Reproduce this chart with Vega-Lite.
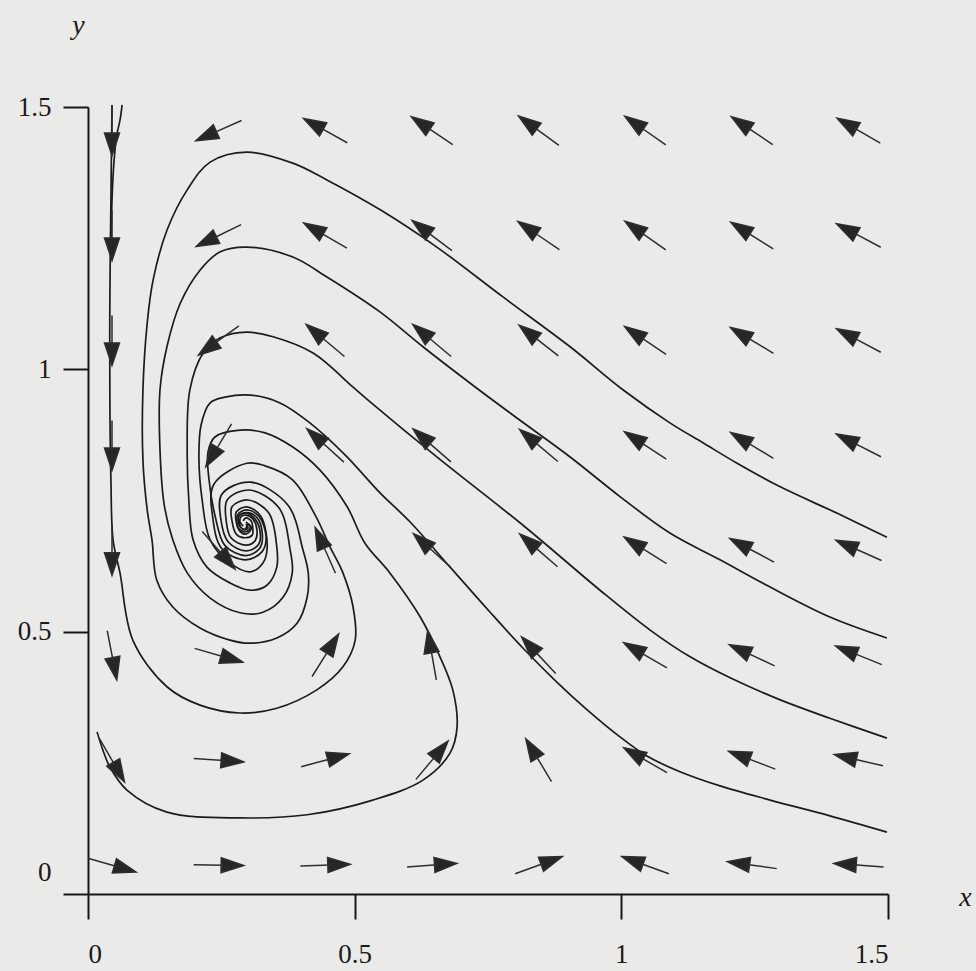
{
  "$schema": "https://vega.github.io/schema/vega-lite/v6.json",
  "width": 800,
  "height": 787,
  "autosize": {"type": "none"},
  "padding": {"left": 88, "top": 107, "right": 88, "bottom": 77},
  "background": "#eaeae8",
  "view": {"stroke": null},
  "config": {
    "axis": {
      "grid": false,
      "domainColor": "#161616",
      "domainWidth": 2,
      "tickColor": "#161616",
      "tickWidth": 2,
      "tickSize": 25,
      "labelFont": "Liberation Serif",
      "labelFontSize": 27,
      "labelColor": "#1a1a1a",
      "titleFont": "Liberation Serif",
      "titleFontSize": 28,
      "titleFontWeight": "normal",
      "titleFontStyle": "italic",
      "titleColor": "#1a1a1a"
    }
  },
  "datasets": {
    "paths": [
      {"t":"T1","i":1,"x":1.498,"y":0.680},{"t":"T1","i":2,"x":1.404,"y":0.726},{"t":"T1","i":3,"x":1.298,"y":0.776},{"t":"T1","i":4,"x":1.217,"y":0.821},{"t":"T1","i":5,"x":1.153,"y":0.860},{"t":"T1","i":6,"x":1.091,"y":0.898},{"t":"T1","i":7,"x":1.003,"y":0.961},{"t":"T1","i":8,"x":0.904,"y":1.043},{"t":"T1","i":9,"x":0.778,"y":1.138},{"t":"T1","i":10,"x":0.654,"y":1.233},{"t":"T1","i":11,"x":0.548,"y":1.304},{"t":"T1","i":12,"x":0.448,"y":1.361},{"t":"T1","i":13,"x":0.384,"y":1.393},{"t":"T1","i":14,"x":0.298,"y":1.414},{"t":"T1","i":15,"x":0.229,"y":1.395},{"t":"T1","i":16,"x":0.186,"y":1.342},{"t":"T1","i":17,"x":0.148,"y":1.265},{"t":"T1","i":18,"x":0.122,"y":1.170},{"t":"T1","i":19,"x":0.111,"y":1.088},{"t":"T1","i":20,"x":0.103,"y":0.961},{"t":"T1","i":21,"x":0.103,"y":0.827},{"t":"T1","i":22,"x":0.111,"y":0.732},{"t":"T1","i":23,"x":0.120,"y":0.675},{"t":"T1","i":24,"x":0.129,"y":0.598},{"t":"T1","i":25,"x":0.159,"y":0.547},{"t":"T1","i":26,"x":0.210,"y":0.507},{"t":"T1","i":27,"x":0.266,"y":0.484},{"t":"T1","i":28,"x":0.304,"y":0.478},{"t":"T1","i":29,"x":0.354,"y":0.488},{"t":"T1","i":30,"x":0.392,"y":0.516},{"t":"T1","i":31,"x":0.411,"y":0.566},{"t":"T1","i":32,"x":0.413,"y":0.612},{"t":"T1","i":33,"x":0.403,"y":0.656},{"t":"T1","i":34,"x":0.375,"y":0.741},{"t":"T1","i":35,"x":0.304,"y":0.785},{"t":"T1","i":36,"x":0.251,"y":0.762},{"t":"T1","i":37,"x":0.249,"y":0.715},{"t":"T1","i":38,"x":0.263,"y":0.671},{"t":"T1","i":39,"x":0.296,"y":0.654},{"t":"T1","i":40,"x":0.319,"y":0.665},{"t":"T1","i":41,"x":0.323,"y":0.688},{"t":"T1","i":42,"x":0.313,"y":0.715},{"t":"T1","i":43,"x":0.296,"y":0.726},{"t":"T1","i":44,"x":0.283,"y":0.720},{"t":"T1","i":45,"x":0.283,"y":0.709},{"t":"T1","i":46,"x":0.287,"y":0.698},{"t":"T1","i":47,"x":0.294,"y":0.694},{"t":"T1","i":48,"x":0.300,"y":0.698},{"t":"T1","i":49,"x":0.296,"y":0.705},

      {"t":"T2","i":1,"x":1.498,"y":0.488},{"t":"T2","i":2,"x":1.391,"y":0.528},{"t":"T2","i":3,"x":1.279,"y":0.585},{"t":"T2","i":4,"x":1.185,"y":0.637},{"t":"T2","i":5,"x":1.091,"y":0.688},{"t":"T2","i":6,"x":0.998,"y":0.757},{"t":"T2","i":7,"x":0.904,"y":0.833},{"t":"T2","i":8,"x":0.810,"y":0.903},{"t":"T2","i":9,"x":0.729,"y":0.964},{"t":"T2","i":10,"x":0.628,"y":1.043},{"t":"T2","i":11,"x":0.548,"y":1.109},{"t":"T2","i":12,"x":0.448,"y":1.176},{"t":"T2","i":13,"x":0.384,"y":1.214},{"t":"T2","i":14,"x":0.298,"y":1.233},{"t":"T2","i":15,"x":0.248,"y":1.224},{"t":"T2","i":16,"x":0.210,"y":1.189},{"t":"T2","i":17,"x":0.173,"y":1.126},{"t":"T2","i":18,"x":0.148,"y":1.043},{"t":"T2","i":19,"x":0.135,"y":0.961},{"t":"T2","i":20,"x":0.135,"y":0.846},{"t":"T2","i":21,"x":0.143,"y":0.741},{"t":"T2","i":22,"x":0.159,"y":0.675},{"t":"T2","i":23,"x":0.186,"y":0.612},{"t":"T2","i":24,"x":0.229,"y":0.564},{"t":"T2","i":25,"x":0.285,"y":0.536},{"t":"T2","i":26,"x":0.328,"y":0.537},{"t":"T2","i":27,"x":0.366,"y":0.566},{"t":"T2","i":28,"x":0.383,"y":0.612},{"t":"T2","i":29,"x":0.379,"y":0.656},{"t":"T2","i":30,"x":0.358,"y":0.736},{"t":"T2","i":31,"x":0.302,"y":0.770},{"t":"T2","i":32,"x":0.261,"y":0.751},{"t":"T2","i":33,"x":0.259,"y":0.713},{"t":"T2","i":34,"x":0.268,"y":0.679},{"t":"T2","i":35,"x":0.296,"y":0.665},{"t":"T2","i":36,"x":0.313,"y":0.673},{"t":"T2","i":37,"x":0.317,"y":0.692},{"t":"T2","i":38,"x":0.309,"y":0.715},{"t":"T2","i":39,"x":0.296,"y":0.722},{"t":"T2","i":40,"x":0.287,"y":0.719},{"t":"T2","i":41,"x":0.285,"y":0.709},{"t":"T2","i":42,"x":0.291,"y":0.701},

      {"t":"T3","i":1,"x":1.498,"y":0.297},{"t":"T3","i":2,"x":1.391,"y":0.335},{"t":"T3","i":3,"x":1.298,"y":0.370},{"t":"T3","i":4,"x":1.204,"y":0.412},{"t":"T3","i":5,"x":1.129,"y":0.452},{"t":"T3","i":6,"x":1.054,"y":0.503},{"t":"T3","i":7,"x":0.960,"y":0.579},{"t":"T3","i":8,"x":0.819,"y":0.700},{"t":"T3","i":9,"x":0.654,"y":0.833},{"t":"T3","i":10,"x":0.529,"y":0.938},{"t":"T3","i":11,"x":0.497,"y":0.966},{"t":"T3","i":12,"x":0.422,"y":1.031},{"t":"T3","i":13,"x":0.347,"y":1.062},{"t":"T3","i":14,"x":0.298,"y":1.071},{"t":"T3","i":15,"x":0.248,"y":1.060},{"t":"T3","i":16,"x":0.216,"y":1.031},{"t":"T3","i":17,"x":0.191,"y":0.961},{"t":"T3","i":18,"x":0.186,"y":0.846},{"t":"T3","i":19,"x":0.189,"y":0.751},{"t":"T3","i":20,"x":0.197,"y":0.675},{"t":"T3","i":21,"x":0.223,"y":0.623},{"t":"T3","i":22,"x":0.266,"y":0.593},{"t":"T3","i":23,"x":0.304,"y":0.579},{"t":"T3","i":24,"x":0.336,"y":0.589},{"t":"T3","i":25,"x":0.354,"y":0.623},{"t":"T3","i":26,"x":0.354,"y":0.661},{"t":"T3","i":27,"x":0.339,"y":0.726},{"t":"T3","i":28,"x":0.300,"y":0.751},{"t":"T3","i":29,"x":0.270,"y":0.738},{"t":"T3","i":30,"x":0.270,"y":0.711},{"t":"T3","i":31,"x":0.278,"y":0.686},{"t":"T3","i":32,"x":0.294,"y":0.679},{"t":"T3","i":33,"x":0.308,"y":0.684},{"t":"T3","i":34,"x":0.309,"y":0.696},{"t":"T3","i":35,"x":0.306,"y":0.711},{"t":"T3","i":36,"x":0.296,"y":0.717},{"t":"T3","i":37,"x":0.291,"y":0.711},

      {"t":"T4","i":1,"x":1.498,"y":0.118},{"t":"T4","i":2,"x":1.391,"y":0.149},{"t":"T4","i":3,"x":1.279,"y":0.179},{"t":"T4","i":4,"x":1.185,"y":0.206},{"t":"T4","i":5,"x":1.110,"y":0.233},{"t":"T4","i":6,"x":1.048,"y":0.263},{"t":"T4","i":7,"x":0.998,"y":0.299},{"t":"T4","i":8,"x":0.936,"y":0.351},{"t":"T4","i":9,"x":0.879,"y":0.404},{"t":"T4","i":10,"x":0.819,"y":0.465},{"t":"T4","i":11,"x":0.754,"y":0.537},{"t":"T4","i":12,"x":0.679,"y":0.623},{"t":"T4","i":13,"x":0.604,"y":0.709},{"t":"T4","i":14,"x":0.548,"y":0.764},{"t":"T4","i":15,"x":0.482,"y":0.837},{"t":"T4","i":16,"x":0.416,"y":0.898},{"t":"T4","i":17,"x":0.360,"y":0.936},{"t":"T4","i":18,"x":0.304,"y":0.951},{"t":"T4","i":19,"x":0.257,"y":0.947},{"t":"T4","i":20,"x":0.229,"y":0.936},{"t":"T4","i":21,"x":0.212,"y":0.894},{"t":"T4","i":22,"x":0.208,"y":0.827},{"t":"T4","i":23,"x":0.214,"y":0.751},{"t":"T4","i":24,"x":0.229,"y":0.675},{"t":"T4","i":25,"x":0.266,"y":0.631},{"t":"T4","i":26,"x":0.304,"y":0.614},{"t":"T4","i":27,"x":0.328,"y":0.631},{"t":"T4","i":28,"x":0.336,"y":0.661},{"t":"T4","i":29,"x":0.324,"y":0.720},{"t":"T4","i":30,"x":0.298,"y":0.738},{"t":"T4","i":31,"x":0.278,"y":0.728},{"t":"T4","i":32,"x":0.278,"y":0.709},{"t":"T4","i":33,"x":0.283,"y":0.694},{"t":"T4","i":34,"x":0.294,"y":0.686},{"t":"T4","i":35,"x":0.304,"y":0.692},{"t":"T4","i":36,"x":0.306,"y":0.700},{"t":"T4","i":37,"x":0.298,"y":0.705},

      {"t":"T5","i":1,"x":0.045,"y":1.504},{"t":"T5","i":2,"x":0.043,"y":1.323},{"t":"T5","i":3,"x":0.041,"y":1.132},{"t":"T5","i":4,"x":0.041,"y":0.942},{"t":"T5","i":5,"x":0.043,"y":0.789},{"t":"T5","i":6,"x":0.047,"y":0.675},{"t":"T5","i":7,"x":0.060,"y":0.612},{"t":"T5","i":8,"x":0.084,"y":0.484},{"t":"T5","i":9,"x":0.148,"y":0.395},{"t":"T5","i":10,"x":0.210,"y":0.360},{"t":"T5","i":11,"x":0.285,"y":0.345},{"t":"T5","i":12,"x":0.354,"y":0.354},{"t":"T5","i":13,"x":0.429,"y":0.389},{"t":"T5","i":14,"x":0.478,"y":0.433},{"t":"T5","i":15,"x":0.501,"y":0.484},{"t":"T5","i":16,"x":0.497,"y":0.547},{"t":"T5","i":17,"x":0.478,"y":0.612},{"t":"T5","i":18,"x":0.454,"y":0.661},{"t":"T5","i":19,"x":0.426,"y":0.722},{"t":"T5","i":20,"x":0.384,"y":0.789},{"t":"T5","i":21,"x":0.332,"y":0.816},{"t":"T5","i":22,"x":0.298,"y":0.821},{"t":"T5","i":23,"x":0.236,"y":0.781},{"t":"T5","i":24,"x":0.234,"y":0.717},{"t":"T5","i":25,"x":0.251,"y":0.658},{"t":"T5","i":26,"x":0.296,"y":0.637},{"t":"T5","i":27,"x":0.326,"y":0.652},{"t":"T5","i":28,"x":0.334,"y":0.680},{"t":"T5","i":29,"x":0.321,"y":0.719},{"t":"T5","i":30,"x":0.298,"y":0.732},{"t":"T5","i":31,"x":0.281,"y":0.724},{"t":"T5","i":32,"x":0.279,"y":0.709},{"t":"T5","i":33,"x":0.283,"y":0.696},{"t":"T5","i":34,"x":0.294,"y":0.690},{"t":"T5","i":35,"x":0.302,"y":0.694},{"t":"T5","i":36,"x":0.304,"y":0.701},{"t":"T5","i":37,"x":0.296,"y":0.709},

      {"t":"T6","i":1,"x":0.064,"y":1.504},{"t":"T6","i":2,"x":0.060,"y":1.475},{"t":"T6","i":3,"x":0.054,"y":1.447},{"t":"T6","i":4,"x":0.049,"y":1.399},{"t":"T6","i":5,"x":0.045,"y":1.323},{"t":"T6","i":6,"x":0.043,"y":1.208},

      {"t":"T7","i":1,"x":0.017,"y":0.309},{"t":"T7","i":2,"x":0.028,"y":0.274},{"t":"T7","i":3,"x":0.041,"y":0.242},{"t":"T7","i":4,"x":0.073,"y":0.198},{"t":"T7","i":5,"x":0.148,"y":0.156},{"t":"T7","i":6,"x":0.285,"y":0.145},{"t":"T7","i":7,"x":0.411,"y":0.151},{"t":"T7","i":8,"x":0.534,"y":0.179},{"t":"T7","i":9,"x":0.628,"y":0.217},{"t":"T7","i":10,"x":0.679,"y":0.269},{"t":"T7","i":11,"x":0.692,"y":0.318},{"t":"T7","i":12,"x":0.684,"y":0.389},{"t":"T7","i":13,"x":0.660,"y":0.452},{"t":"T7","i":14,"x":0.623,"y":0.528},{"t":"T7","i":15,"x":0.566,"y":0.612},{"t":"T7","i":16,"x":0.519,"y":0.669},{"t":"T7","i":17,"x":0.486,"y":0.738},{"t":"T7","i":18,"x":0.435,"y":0.808},{"t":"T7","i":19,"x":0.384,"y":0.852},{"t":"T7","i":20,"x":0.332,"y":0.879},{"t":"T7","i":21,"x":0.285,"y":0.884},{"t":"T7","i":22,"x":0.238,"y":0.871},{"t":"T7","i":23,"x":0.225,"y":0.842},{"t":"T7","i":24,"x":0.227,"y":0.789},{"t":"T7","i":25,"x":0.238,"y":0.722},{"t":"T7","i":26,"x":0.257,"y":0.664},{"t":"T7","i":27,"x":0.296,"y":0.645},{"t":"T7","i":28,"x":0.322,"y":0.659},{"t":"T7","i":29,"x":0.327,"y":0.684},{"t":"T7","i":30,"x":0.317,"y":0.717},{"t":"T7","i":31,"x":0.298,"y":0.727},{"t":"T7","i":32,"x":0.283,"y":0.721},{"t":"T7","i":33,"x":0.282,"y":0.709},{"t":"T7","i":34,"x":0.286,"y":0.699},{"t":"T7","i":35,"x":0.294,"y":0.695},{"t":"T7","i":36,"x":0.298,"y":0.702}
    ],
    "field": [
      {"x":0.045,"y":1.455,"dir":180},{"x":0.245,"y":1.455,"dir":246},{"x":0.445,"y":1.455,"dir":299},{"x":0.645,"y":1.455,"dir":304},{"x":0.845,"y":1.455,"dir":306},{"x":1.045,"y":1.455,"dir":305},{"x":1.245,"y":1.455,"dir":304},{"x":1.445,"y":1.455,"dir":300},
      {"x":0.045,"y":1.255,"dir":180},{"x":0.245,"y":1.255,"dir":244},{"x":0.445,"y":1.255,"dir":300},{"x":0.645,"y":1.255,"dir":307},{"x":0.845,"y":1.255,"dir":304},{"x":1.045,"y":1.255,"dir":305},{"x":1.245,"y":1.255,"dir":302},{"x":1.445,"y":1.255,"dir":298},
      {"x":0.045,"y":1.055,"dir":180},{"x":0.245,"y":1.055,"dir":234},{"x":0.445,"y":1.055,"dir":310},{"x":0.645,"y":1.055,"dir":310},{"x":0.845,"y":1.055,"dir":308},{"x":1.045,"y":1.055,"dir":304},{"x":1.245,"y":1.055,"dir":301},{"x":1.445,"y":1.055,"dir":298},
      {"x":0.045,"y":0.855,"dir":180},{"x":0.245,"y":0.855,"dir":211},{"x":0.445,"y":0.855,"dir":312},{"x":0.645,"y":0.855,"dir":311},{"x":0.845,"y":0.855,"dir":310},{"x":1.045,"y":0.855,"dir":303},{"x":1.245,"y":0.855,"dir":301},{"x":1.445,"y":0.855,"dir":297},
      {"x":0.045,"y":0.655,"dir":180},{"x":0.245,"y":0.655,"dir":139},{"x":0.445,"y":0.655,"dir":336},{"x":0.645,"y":0.655,"dir":312},{"x":0.845,"y":0.655,"dir":311},{"x":1.045,"y":0.655,"dir":302},{"x":1.245,"y":0.655,"dir":298},{"x":1.445,"y":0.655,"dir":294},
      {"x":0.045,"y":0.455,"dir":169},{"x":0.245,"y":0.455,"dir":106},{"x":0.445,"y":0.455,"dir":32},{"x":0.645,"y":0.455,"dir":350},{"x":0.845,"y":0.455,"dir":317},{"x":1.045,"y":0.455,"dir":300},{"x":1.245,"y":0.455,"dir":295},{"x":1.445,"y":0.455,"dir":292},
      {"x":0.045,"y":0.255,"dir":150},{"x":0.245,"y":0.255,"dir":94},{"x":0.445,"y":0.255,"dir":75},{"x":0.645,"y":0.255,"dir":40},{"x":0.845,"y":0.255,"dir":329},{"x":1.045,"y":0.255,"dir":300},{"x":1.245,"y":0.255,"dir":291},{"x":1.445,"y":0.255,"dir":283},
      {"x":0.045,"y":0.055,"dir":106},{"x":0.245,"y":0.055,"dir":91},{"x":0.445,"y":0.055,"dir":88},{"x":0.645,"y":0.055,"dir":86},{"x":0.845,"y":0.055,"dir":70},{"x":1.045,"y":0.055,"dir":290},{"x":1.245,"y":0.055,"dir":278},{"x":1.445,"y":0.055,"dir":274}
    ]
  },
  "layer": [
    {
      "data": {"name": "paths"},
      "mark": {"type": "line", "interpolate": "catmull-rom", "color": "#1c1c1c", "strokeWidth": 1.7, "clip": false},
      "encoding": {
        "x": {
          "field": "x", "type": "quantitative",
          "scale": {"domain": [0, 1.5], "nice": false, "zero": false},
          "axis": {
            "values": [0, 0.5, 1, 1.5], "format": "~g",
            "labelPadding": 22,
            "title": "x", "titleX": 877, "titleY": 3, "titleAlign": "center", "titleBaseline": "middle", "titleAngle": 0
          }
        },
        "y": {
          "field": "y", "type": "quantitative",
          "scale": {"domain": [0, 1.5], "nice": false, "zero": false},
          "axis": {
            "values": [0, 0.5, 1, 1.5], "format": "~g",
            "labelPadding": 12,
            "labelOffset": {"condition": {"test": "datum.value === 0", "value": -22}, "value": 0},
            "title": "y", "titleX": -10, "titleY": -82, "titleAlign": "center", "titleBaseline": "middle", "titleAngle": 0
          }
        },
        "detail": {"field": "t", "type": "nominal"},
        "order": {"field": "i", "type": "quantitative"}
      }
    },
    {
      "data": {"name": "field"},
      "mark": {
        "type": "point",
        "shape": "M0,1L0,-0.2M0,-1L0.3,-0.1L-0.3,-0.1Z",
        "size": 2500,
        "filled": true,
        "fill": "#262626",
        "stroke": "#2e2e2e",
        "strokeWidth": 1.5,
        "opacity": 1
      },
      "encoding": {
        "x": {"field": "x", "type": "quantitative"},
        "y": {"field": "y", "type": "quantitative"},
        "angle": {"field": "dir", "type": "quantitative", "scale": null}
      }
    }
  ]
}
